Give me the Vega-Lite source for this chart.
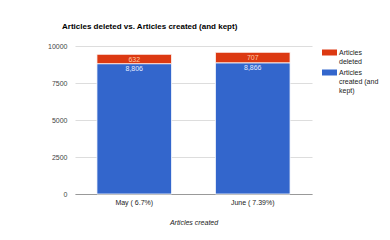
{
  "$schema": "https://vega.github.io/schema/vega-lite/v6.json",
  "width": 237,
  "height": 148,
  "autosize": "none",
  "padding": {"left": 75, "top": 46, "right": 78, "bottom": 46},
  "background": "white",
  "config": {
    "font": "Liberation Sans",
    "view": {"stroke": null}
  },
  "title": {
    "text": "Articles deleted vs. Articles created (and kept)",
    "anchor": "start",
    "frame": "group",
    "dx": -13,
    "offset": 11,
    "fontSize": 8,
    "fontWeight": "bold",
    "color": "#000"
  },
  "data": {
    "values": [
      {"month": "May ( 6.7%)", "series": "Articles created (and kept)", "value": 8806, "ord": 1},
      {"month": "May ( 6.7%)", "series": "Articles deleted", "value": 632, "ord": 2},
      {"month": "June ( 7.39%)", "series": "Articles created (and kept)", "value": 8866, "ord": 1},
      {"month": "June ( 7.39%)", "series": "Articles deleted", "value": 707, "ord": 2}
    ]
  },
  "encoding": {
    "x": {
      "field": "month",
      "type": "nominal",
      "sort": ["May ( 6.7%)", "June ( 7.39%)"],
      "scale": {"paddingInner": 0.37, "paddingOuter": 0.185},
      "axis": {
        "title": "Articles created",
        "titleFontStyle": "italic",
        "titleFontWeight": "normal",
        "titleFontSize": 7,
        "titleColor": "#222",
        "titlePadding": 13,
        "labelAngle": 0,
        "labelFontSize": 7,
        "labelColor": "#222",
        "labelPadding": 4,
        "ticks": false,
        "domainColor": "#999"
      }
    },
    "y": {
      "field": "value",
      "type": "quantitative",
      "stack": "zero",
      "scale": {"domain": [0, 10000]},
      "axis": {
        "title": null,
        "values": [0, 2500, 5000, 7500, 10000],
        "format": "d",
        "labelFontSize": 7,
        "labelColor": "#444",
        "labelPadding": 8,
        "ticks": false,
        "domain": false,
        "gridColor": "#dddddd"
      }
    },
    "order": {"field": "ord", "type": "quantitative"}
  },
  "layer": [
    {
      "mark": {"type": "bar", "stroke": "white", "strokeWidth": 0.8},
      "encoding": {
        "color": {
          "field": "series",
          "type": "nominal",
          "scale": {
            "domain": ["Articles deleted", "Articles created (and kept)"],
            "range": ["#dc3912", "#3366cc"]
          },
          "legend": {
            "title": null,
            "orient": "none",
            "legendX": 247,
            "legendY": -1,
            "symbolType": "M-1,-0.4H1V0.4H-1Z",
            "symbolSize": 225,
            "symbolStrokeWidth": 0,
            "symbolOpacity": 1,
            "labelFontSize": 7,
            "labelColor": "#222",
            "labelOffset": 2,
            "labelLimit": 100,
            "rowPadding": -1,
            "labelExpr": "datum.label == 'Articles deleted' ? ['Articles', 'deleted'] : ['Articles', 'created (and', 'kept)']"
          }
        }
      }
    },
    {
      "mark": {"type": "text", "baseline": "top", "dy": 1.5, "fontSize": 7},
      "encoding": {
        "text": {"field": "value", "type": "quantitative", "format": ","},
        "color": {"condition": {"test": "datum.ord == 2", "value": "#ffc9a6"}, "value": "#e4ebff"}
      }
    }
  ]
}
